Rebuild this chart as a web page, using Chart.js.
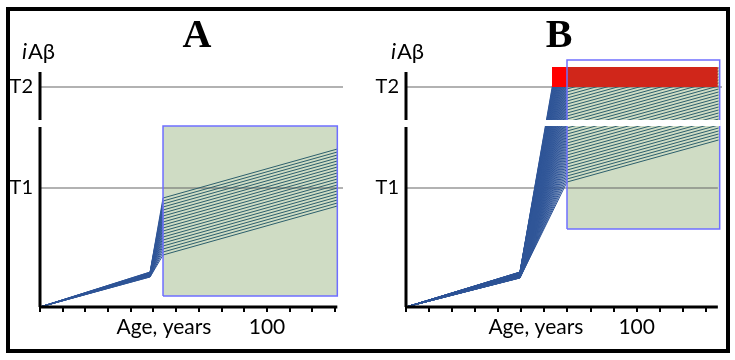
<!DOCTYPE html>
<html>
<head>
<meta charset="utf-8">
<script src="https://cdn.jsdelivr.net/npm/chart.js@4"></script>
<style>
  html, body { margin: 0; padding: 0; background: #fff; }
  #wrap { position: relative; width: 735px; height: 360px; }
  #chartA { position: absolute; left: 0; top: 0; }
  #chartB { position: absolute; left: 365px; top: 0; }
  #frame { position: absolute; left: 6px; top: 7px; width: 724px; height: 346px;
           box-sizing: border-box; border: 4px solid #000; }
</style>
</head>
<body>
<div id="wrap">
  <canvas id="chartA" width="365" height="360"></canvas>
  <canvas id="chartB" width="370" height="360"></canvas>
  <div id="frame"></div>
</div>
<script>
// shared axis data
const xTicks = [0, 10, 20, 30, 40, 50, 60, 70, 80, 90, 100, 110, 120, 130];
const tLabels = ['T1', 'T2'];
const tValues = [59.5, 110];
const axisLower = [0, 90];
const axisUpper = [93.5, 117.5];

// panel A
const aAges = [0, 48.5, 54.2, 131];      // origin, kink, box start, end
const aKink = [15, 15.1, 15.3, 15.4, 15.5, 15.7, 15.8, 15.9, 16.1, 16.2, 16.3, 16.4, 16.6, 16.7, 16.8, 17, 17.1, 17.2, 17.4, 17.5];
const aStart = [26, 27.5, 29, 30.5, 32, 33.5, 35, 36.5, 38, 39.5, 41, 42.5, 44, 45.5, 47, 48.5, 50, 51.5, 53, 54.5];
const aEnd = [50.5, 52, 53.5, 55, 56.5, 58, 59.5, 61, 62.5, 64, 65.5, 67, 68.5, 70, 71.5, 73, 74.5, 76, 77.5, 79];
const aBoxAges = [54.2, 131];
const aBoxLevels = [5.5, 90.5];

// panel B
const bAges = [0, 49.4, 69.8, 135.5];
const bKink = [14.5, 14.55, 14.6, 14.65, 14.7, 14.75, 14.8, 14.85, 14.9, 14.95, 15, 15.05, 15.1, 15.15, 15.2, 15.25, 15.3, 15.35, 15.4, 15.45, 15.5, 15.55, 15.6, 15.65, 15.7, 15.75, 15.8, 15.85, 15.9, 15.95, 16, 16.05, 16.1, 16.15, 16.2, 16.25, 16.3, 16.35, 16.4, 16.45, 16.5, 16.55, 16.6, 16.65, 16.7, 16.75, 16.8, 16.85, 16.9, 16.95, 17, 17.05, 17.1, 17.15, 17.2, 17.25, 17.3, 17.35, 17.4, 17.45, 17.5];
const bStart = [62.5, 64, 65.5, 67, 68.5, 70, 71.5, 73, 74.5, 76, 77.5, 79, 80.5, 82, 83.5, 85, 86.5, 88, 89.5, 91, 92.5, 94, 95.5, 97, 98.5, 100, 101.5, 103, 104.5, 106, 107.5, 109, 110.5, 112, 113.5, 115, 116.5, 118, 119.5, 121, 122.5, 124, 125.5, 127, 128.5, 130, 131.5, 133, 134.5, 136, 137.5, 139, 140.5, 142, 143.5, 145, 146.5, 148, 149.5, 151, 152.5];
const bEnd = [83.5, 85, 86.5, 88, 89.5, 91, 92.5, 94, 95.5, 97, 98.5, 100, 101.5, 103, 104.5, 106, 107.5, 109, 110.5, 112, 113.5, 115, 116.5, 118, 119.5, 121, 122.5, 124, 125.5, 127, 128.5, 130, 131.5, 133, 134.5, 136, 137.5, 139, 140.5, 142, 143.5, 145, 146.5, 148, 149.5, 151, 152.5, 154, 155.5, 157, 158.5, 160, 161.5, 163, 164.5, 166, 167.5, 169, 170.5, 172, 173.5];
const bBoxAges = [69.8, 136];
const bBoxLevels = [39, 123.5];
const bRedAges = [63.3, 69.8, 135.2];
const bRedLevels = [110, 120];
const bGapAges = [60.2, 136.5];
const bGapLevels = [90.5, 93.5];

const BLUE = '#2f5597', TEAL = '#2c5f6c', GREEN = '#cfdcc4', BOXLINE = '#6f6fff';
const RED = '#ff0000', DARKRED = '#d0261a', TLINE = '#666666';

function band(x0, x1, y0, y1, color, order) {
  return { data: [{x: x0, y: y1}, {x: x1, y: y1}], fill: {value: y0}, backgroundColor: color,
           borderWidth: 0, pointRadius: 0, order: order, clip: false };
}
function outline(x0, x1, y0, y1, color, order) {
  return { data: [{x: x0, y: y0}, {x: x1, y: y0}, {x: x1, y: y1}, {x: x0, y: y1}, {x: x0, y: y0}],
           borderColor: color, borderWidth: 1.5, fill: false, pointRadius: 0, order: order, clip: false };
}
function segLine(pts, color, width, order) {
  return { data: pts, borderColor: color, borderWidth: width, fill: false, pointRadius: 0, order: order, clip: false };
}
function bundle(ages, kink, start, end) {
  return start.map((s, i) => ({
    data: [{x: ages[0], y: 0}, {x: ages[1], y: kink[i]}, {x: ages[2], y: s}, {x: ages[3], y: end[i]}],
    borderColor: BLUE, borderWidth: 1, fill: false, pointRadius: 0, order: 60,
    segment: { borderColor: c => c.p0.parsed.x >= ages[2] - 0.01 ? TEAL : BLUE }
  }));
}

const textPlugin = {
  id: 'panelText',
  afterDraw(chart, args, o) {
    const ctx = chart.ctx;
    ctx.save();
    ctx.fillStyle = '#000';
    ctx.textBaseline = 'alphabetic';
    ctx.textAlign = 'center';
    ctx.font = 'bold 40px "Liberation Serif"';
    ctx.fillText(o.letter, o.letterX, 47);
    ctx.textAlign = 'left';
    ctx.font = 'italic 22px Lato';
    const wi = ctx.measureText('i').width;
    ctx.font = '22px Lato';
    const wa = ctx.measureText('A\u03b2').width;
    const x0 = o.labelX - (wi + wa) / 2;
    ctx.font = 'italic 22px Lato';
    ctx.fillText('i', x0, 59);
    ctx.font = '22px Lato';
    ctx.fillText('A\u03b2', x0 + wi + 1, 59);
    ctx.restore();
  }
};

function makeChart(id, o) {
  const ticks = xTicks.concat([o.ageLabelAt]).sort((p, q) => p - q);
  new Chart(document.getElementById(id), {
    type: 'line',
    data: { datasets: o.datasets },
    plugins: [textPlugin],
    options: {
      responsive: false,
      animation: false,
      events: [],
      layout: { padding: { top: 67, right: o.padRight, left: 0, bottom: 0 } },
      plugins: { legend: { display: false }, tooltip: { enabled: false },
                 panelText: { letter: o.letter, letterX: o.letterX, labelX: o.labelX } },
      scales: {
        x: {
          type: 'linear', min: 0, max: o.xMax,
          afterBuildTicks: s => { s.ticks = ticks.map(v => ({value: v})); },
          afterFit: s => { s.height = 53; },
          border: { display: false },
          grid: { drawOnChartArea: false, drawTicks: true, tickLength: 5, lineWidth: 2,
                  tickColor: c => (c.tick && c.tick.value === o.ageLabelAt) ? 'rgba(0,0,0,0)' : '#000' },
          ticks: { autoSkip: false, maxRotation: 0, padding: 3, color: '#000',
                   font: { family: 'Lato', size: 21 },
                   callback: v => v === 100 ? '100' : (v === o.ageLabelAt ? 'Age, years' : '') }
        },
        y: {
          type: 'linear', min: 0, max: 120,
          afterBuildTicks: s => { s.ticks = tValues.map(v => ({value: v})); },
          afterFit: s => { s.width = o.yWidth; },
          border: { display: false },
          grid: { display: false, drawTicks: false },
          ticks: { padding: 7, color: '#000', font: { family: 'Lato', size: 20 },
                   callback: (v, i) => tLabels[i] }
        }
      }
    }
  });
}

// ---- panel A ----
const dsA = [
  band(aBoxAges[0], aBoxAges[1], aBoxLevels[0], aBoxLevels[1], GREEN, 80),
  segLine([{x: 0, y: tValues[0]}, {x: 133.5, y: tValues[0]}], TLINE, 1.2, 70),
  segLine([{x: 0, y: tValues[1]}, {x: 133.5, y: tValues[1]}], TLINE, 1.2, 70),
  ...bundle(aAges, aKink, aStart, aEnd),
  outline(aBoxAges[0], aBoxAges[1], aBoxLevels[0], aBoxLevels[1], BOXLINE, 40),
  segLine([{x: 0, y: axisLower[0]}, {x: 0, y: axisLower[1]}], '#000', 3, 10),
  segLine([{x: 0, y: axisUpper[0]}, {x: 0, y: axisUpper[1]}], '#000', 3, 10),
  segLine([{x: 0, y: 0}, {x: 131, y: 0}], '#000', 3, 10)
];
makeChart('chartA', { datasets: dsA, xMax: 133.5, padRight: 22, yWidth: 40,
                      ageLabelAt: 54.6, letter: 'A', letterX: 197, labelX: 38 });

// ---- panel B ----
const dsB = [
  band(bBoxAges[0], bBoxAges[1], bBoxLevels[0], bBoxLevels[1], GREEN, 80),
  segLine([{x: 0, y: tValues[0]}, {x: 135.2, y: tValues[0]}], TLINE, 1.2, 70),
  segLine([{x: 0, y: tValues[1]}, {x: 137, y: tValues[1]}], TLINE, 1.2, 70),
  ...bundle(bAges, bKink, bStart, bEnd),
  band(bRedAges[0], bRedAges[1], bRedLevels[0], bRedLevels[1], RED, 50),
  band(bRedAges[1], bRedAges[2], bRedLevels[0], bRedLevels[1], DARKRED, 50),
  outline(bBoxAges[0], bBoxAges[1], bBoxLevels[0], bBoxLevels[1], BOXLINE, 40),
  band(bGapAges[0], bGapAges[1], bGapLevels[0], bGapLevels[1], '#ffffff', 30),
  segLine([{x: 0, y: axisLower[0]}, {x: 0, y: axisLower[1]}], '#000', 3, 10),
  segLine([{x: 0, y: axisUpper[0]}, {x: 0, y: axisUpper[1]}], '#000', 3, 10),
  segLine([{x: 0, y: 0}, {x: 135.2, y: 0}], '#000', 3, 10)
];
makeChart('chartB', { datasets: dsB, xMax: 137, padRight: 13, yWidth: 41,
                      ageLabelAt: 56.3, letter: 'B', letterX: 194, labelX: 42 });
</script>
</body>
</html>
